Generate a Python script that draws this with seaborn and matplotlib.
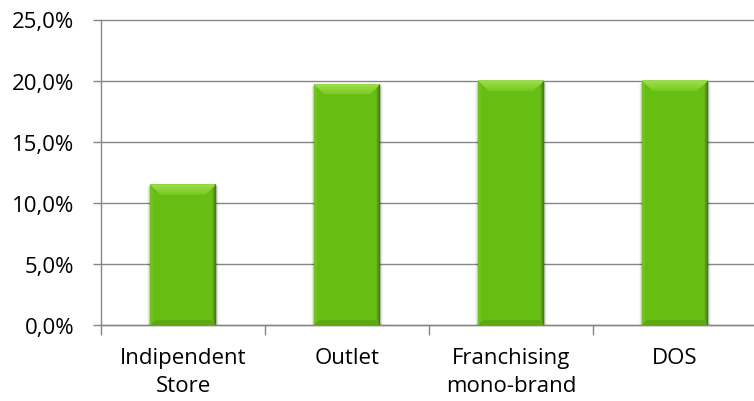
import matplotlib
matplotlib.use("Agg")
import matplotlib.pyplot as plt
from matplotlib.patches import Polygon, Rectangle
from matplotlib.ticker import FuncFormatter, FixedLocator
import seaborn as sns
import numpy as np

categories = ["Indipendent\nStore", "Outlet", "Franchising\nmono-brand", "DOS"]
values = [11.5, 19.7, 20.0, 20.0]
y_ticks = [0, 5, 10, 15, 20, 25]

sns.set_style("white")
plt.rcParams["font.family"] = ["Open Sans", "DejaVu Sans"]

W, H = 754, 402
fig = plt.figure(figsize=(W / 100, H / 100), dpi=100)
ax = fig.add_axes([101 / W, (H - 326) / H, 656 / W, 305.5 / H])

base = "#66BE12"
sns.barplot(x=categories, y=values, color=base, width=0.40, ax=ax,
            saturation=1, zorder=3, edgecolor="none")

ax.set_xlim(-0.5, len(categories) - 0.5)
ax.set_ylim(0, 25)
ax.set_yticks(y_ticks)
ax.yaxis.set_major_formatter(FuncFormatter(lambda v, p: f"{v:.1f}%".replace(".", ",")))
ax.grid(axis="y", color="#868686", lw=1, zorder=0)
ax.set_axisbelow(True)
for g in ax.get_ygridlines():
    g.set_clip_on(False)

for s in ["top", "right"]:
    ax.spines[s].set_visible(False)
for s in ["left", "bottom"]:
    ax.spines[s].set_color("#868686")
    ax.spines[s].set_linewidth(1)

fs = 16
ax.tick_params(axis="y", length=6, color="#868686", width=1, labelsize=fs,
               labelcolor="black", pad=13, left=True)
ax.tick_params(axis="x", which="major", length=0, labelsize=fs,
               labelcolor="black", pad=16)
ax.xaxis.set_minor_locator(FixedLocator(np.arange(-0.5, len(categories), 1.0)))
ax.tick_params(axis="x", which="minor", length=7, color="#868686", width=1,
               bottom=True)
for lab in ax.get_xticklabels():
    lab.set_linespacing(1.45)
ax.set_xlabel("")
ax.set_ylabel("")

# bevelled look for each bar, derived from the bar geometry
fig.canvas.draw()
inv = ax.transData.inverted()
ux = abs(inv.transform((1, 0))[0] - inv.transform((0, 0))[0])
uy = abs(inv.transform((0, 1))[1] - inv.transform((0, 0))[1])


def trap(pts, color, z=4):
    ax.add_patch(Polygon(pts, closed=True, facecolor=color, lw=0, zorder=z))


for p in list(ax.patches):
    x0, y0 = p.get_x(), p.get_y()
    w, h = p.get_width(), p.get_height()
    x1, y1 = x0 + w, y0 + h
    # soft shadow around the bar
    for k, a in enumerate([0.12, 0.07, 0.03]):
        d = k + 1
        ax.add_patch(Rectangle((x0 - d * ux, y0), w + 2 * d * ux, h - d * uy,
                               facecolor="black", alpha=a, lw=0, zorder=2))
    # side bevels
    sx = 3
    trap([(x0, y1), (x0 + sx * ux, y1 - sx * uy), (x0 + sx * ux, y0 + sx * uy), (x0, y0)],
         "#6FC31C")
    trap([(x1, y1), (x1 - sx * ux, y1 - sx * uy), (x1 - sx * ux, y0 + sx * uy), (x1, y0)],
         "#559F0D")
    # bottom bevel
    bb = 5
    trap([(x0, y0), (x0 + bb * ux, y0 + bb * uy), (x1 - bb * ux, y0 + bb * uy), (x1, y0)],
         "#5BAA10")
    # top bevel, shaded in bands from bright rim to face
    tb = 10
    shades = ["#7DCD2A", "#86D233", "#8FD73C", "#99DC47"]
    n = len(shades)
    for i, c in enumerate(shades):
        t = tb * (n - i) / n
        trap([(x0, y1), (x1, y1), (x1 - t * ux, y1 - t * uy), (x0 + t * ux, y1 - t * uy)], c)
    ax.plot([x1 - 0.5 * ux] * 2, [y0, y1], color="#3F7D08", lw=1, zorder=5,
            solid_capstyle="butt")

fig.savefig("out.png", dpi=100)
